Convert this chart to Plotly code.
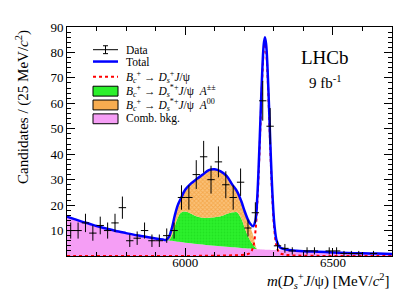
import numpy as np
import plotly.graph_objects as go

# ---------------- data ----------------
bin_low = 5600.0
bin_width = 25.0
counts = [10, 10, 13, 9, 12, 10, 13, 19, 6, 7,
          10, 6, 6, 8, 10, 23, 23, 32, 39, 30,
          37, 28, 23, 29, 11, 17, 61, 51, 4, 3,
          2, 0, 2, 2, 0, 2, 2, 1, 1, 1,
          0, 1, 0, 0]

curve_mass = [5600, 5625, 5650, 5675, 5700, 5725, 5750, 5775, 5800, 5825, 5850, 5875, 5900, 5925,
              5935, 5945, 5955, 5965, 5975, 5985,
              6000, 6020, 6040, 6060, 6080, 6100, 6120, 6140, 6160,
              6175, 6190, 6200, 6210, 6220, 6230,
              6238, 6244, 6250,
              6254, 6258, 6262, 6266, 6270, 6274, 6278, 6282, 6286, 6290,
              6296, 6302, 6310, 6320, 6335, 6350, 6375, 6400,
              6450, 6500, 6550, 6600, 6650, 6700]

comb_bkg = [15.5, 14.5, 13.5, 12.7, 11.8, 11.0, 10.3, 9.6, 9.0, 8.4, 7.9, 7.4, 6.9, 6.45,
            6.3, 6.1, 6.0, 5.8, 5.6, 5.5,
            5.2, 5.0, 4.7, 4.5, 4.2, 4.0, 3.8, 3.6, 3.4,
            3.3, 3.1, 3.0, 2.95, 2.9, 2.8,
            2.75, 2.7, 2.65,
            2.6, 2.6, 2.55, 2.55, 2.5, 2.5, 2.5, 2.45, 2.45, 2.4,
            2.4, 2.35, 2.3, 2.25, 2.15, 2.05, 1.9, 1.8,
            1.6, 1.4, 1.2, 1.05, 0.95, 0.8]

dsstar_pp = [0, 0, 0, 0, 0, 0, 0, 0, 0, 0, 0, 0, 0, 0,
             0, 0.3, 2.0, 6.0, 9.5, 11.5,
             12.3, 11.6, 10.8, 10.5, 10.8, 11.2, 11.8, 12.9, 13.8,
             13.9, 11.6, 8.5, 5.5, 3.2, 1.6,
             0.5, 0, 0,
             0, 0, 0, 0, 0, 0, 0, 0, 0, 0,
             0, 0, 0, 0, 0, 0, 0, 0,
             0, 0, 0, 0, 0, 0]

dsstar_00 = [0, 0, 0, 0, 0, 0, 0, 0, 0, 0, 0, 0, 0, 0,
             0, 1.1, 3.0, 4.2, 4.9, 5.5,
             8.5, 11.9, 14.8, 17.0, 18.7, 18.8, 17.5, 14.8, 10.5,
             8.0, 6.4, 6.0, 5.8, 5.4, 3.8,
             1.0, 0, 0,
             0, 0, 0, 0, 0, 0, 0, 0, 0, 0,
             0, 0, 0, 0, 0, 0, 0, 0,
             0, 0, 0, 0, 0, 0]

signal_ds = [0, 0, 0, 0, 0, 0, 0, 0, 0, 0, 0, 0, 0, 0,
             0, 0, 0, 0, 0, 0,
             0.02, 0.03, 0.05, 0.06, 0.08, 0.1, 0.15, 0.2, 0.25,
             0.3, 0.4, 0.5, 0.7, 1.2, 3.5,
             9.9, 20.4, 36.3,
             49.0, 61.9, 73.1, 80.7, 83.5, 80.7, 73.1, 61.9, 49.0, 36.3,
             20.4, 9.9, 3.5, 1.2, 0.6, 0.35, 0.2, 0.1,
             0.05, 0, 0, 0, 0, 0]

y_tick_vals = [10, 20, 30, 40, 50, 60, 70, 80, 90]

# ---------------- derived ----------------
counts_a = np.array(counts, dtype=float)
centers = bin_low + bin_width * (np.arange(len(counts)) + 0.5)
nz = counts_a > 0
comb = np.array(comb_bkg)
g_top = comb + np.array(dsstar_pp)
o_top = g_top + np.array(dsstar_00)
sig = np.array(signal_ds)
total = o_top + sig

FONT = "Liberation Serif"
PINK = "#f59ef5"
GREEN = "#2cf02c"
ORANGE = "#f7ac50"

fig = go.Figure()
fig.add_trace(go.Scatter(x=curve_mass, y=comb, mode="lines", line=dict(width=0, shape="spline"),
                         fill="tozeroy", fillcolor=PINK, hoverinfo="skip"))
fig.add_trace(go.Scatter(x=curve_mass, y=g_top, mode="lines", line=dict(width=0, shape="spline"),
                         fill="tonexty", fillcolor=GREEN,
                         fillpattern=dict(shape=".", bgcolor=GREEN, fgcolor="#18d418", size=3, solidity=0.3),
                         hoverinfo="skip"))
fig.add_trace(go.Scatter(x=curve_mass, y=o_top, mode="lines", line=dict(width=0, shape="spline"),
                         fill="tonexty", fillcolor=ORANGE,
                         fillpattern=dict(shape="x", bgcolor="#fac27a", fgcolor="#ef9020", size=3, solidity=0.5),
                         hoverinfo="skip"))
fig.add_trace(go.Scatter(x=curve_mass, y=sig, mode="lines",
                         line=dict(color="#ff0000", width=2, dash="dot", shape="spline")))
fig.add_trace(go.Scatter(x=curve_mass, y=total, mode="lines",
                         line=dict(color="#0000ff", width=2.5, shape="spline")))
fig.add_trace(go.Scatter(x=centers[nz], y=counts_a[nz], mode="markers",
                         marker=dict(size=1, color="black"),
                         error_x=dict(type="constant", value=bin_width / 2, width=0, thickness=1, color="black"),
                         error_y=dict(type="data", array=np.sqrt(counts_a[nz]), width=0, thickness=1, color="black")))

# ---------------- layout helpers ----------------
L, R, T, B = 59, 23, 16, 50
W, H = 407, 298
PW, PH = W - L - R, H - T - B


def px_x(p):
    return (p - L) / PW


def px_y(p):
    return (H - B - p) / PH


shapes = []
ann = []
sx0, sx1 = 85, 110
# Data symbol
shapes.append(dict(type="line", xref="paper", yref="paper", x0=px_x(sx0), x1=px_x(sx1),
                   y0=px_y(39), y1=px_y(39), line=dict(color="black", width=1)))
shapes.append(dict(type="line", xref="paper", yref="paper", x0=px_x(97.5), x1=px_x(97.5),
                   y0=px_y(35), y1=px_y(43), line=dict(color="black", width=1)))
for yy in (35, 43):
    shapes.append(dict(type="line", xref="paper", yref="paper", x0=px_x(95), x1=px_x(100),
                       y0=px_y(yy), y1=px_y(yy), line=dict(color="black", width=1)))
# Total
shapes.append(dict(type="line", xref="paper", yref="paper", x0=px_x(sx0), x1=px_x(sx1),
                   y0=px_y(51), y1=px_y(51), line=dict(color="#0000ff", width=2.5)))
# Signal
shapes.append(dict(type="line", xref="paper", yref="paper", x0=px_x(sx0), x1=px_x(sx1),
                   y0=px_y(66.5), y1=px_y(66.5), line=dict(color="#ff0000", width=2, dash="dot")))
# boxes
for yc, col in ((81, GREEN), (95, ORANGE), (109, PINK)):
    shapes.append(dict(type="rect", xref="paper", yref="paper", x0=px_x(sx0), x1=px_x(sx1),
                       y0=px_y(yc + 5), y1=px_y(yc - 5), fillcolor=col, line=dict(color="black", width=1)))

leg_texts = [
    (39, "Data"),
    (51, "Total"),
    (66.5, "<i>B</i><sub><i>c</i></sub><sup>+</sup> → <i>D</i><sub><i>s</i></sub><sup>+</sup><i>J</i>/ψ"),
    (81, "<i>B</i><sub><i>c</i></sub><sup>+</sup> → <i>D</i><sub><i>s</i></sub><sup>*+</sup><i>J</i>/ψ  <i>A</i><sup>±±</sup>"),
    (95, "<i>B</i><sub><i>c</i></sub><sup>+</sup> → <i>D</i><sub><i>s</i></sub><sup>*+</sup><i>J</i>/ψ  <i>A</i><sup>00</sup>"),
    (109, "Comb. bkg."),
]
for yc, txt in leg_texts:
    ann.append(dict(xref="paper", yref="paper", x=px_x(116), y=px_y(yc), text=txt, showarrow=False,
                    xanchor="left", yanchor="middle", font=dict(family=FONT, size=11.5, color="black")))

ann.append(dict(xref="paper", yref="paper", x=px_x(317), y=px_y(46.5), text="LHCb", showarrow=False,
                xanchor="center", yanchor="middle", font=dict(family=FONT, size=19, color="black")))
ann.append(dict(xref="paper", yref="paper", x=px_x(317), y=px_y(72), text="9 fb<sup>-1</sup>", showarrow=False,
                xanchor="center", yanchor="middle", font=dict(family=FONT, size=15, color="black")))
ann.append(dict(xref="paper", yref="paper", x=px_x(15), y=px_y(97), text="Candidates / (25 MeV/<i>c</i><sup>2</sup>)",
                showarrow=False, textangle=-90, xanchor="center", yanchor="middle",
                font=dict(family=FONT, size=15, color="black")))
ann.append(dict(xref="paper", yref="paper", x=px_x(384), y=px_y(273),
                text="<i>m</i>(<i>D</i><sub><i>s</i></sub><sup>+</sup><i>J</i>/ψ) [MeV/<i>c</i><sup>2</sup>]",
                showarrow=False, xanchor="right", yanchor="middle",
                font=dict(family=FONT, size=15, color="black")))

fig.update_layout(
    width=W, height=H,
    margin=dict(l=L, r=R, t=T, b=B),
    paper_bgcolor="white", plot_bgcolor="white",
    showlegend=False,
    shapes=shapes, annotations=ann,
    font=dict(family=FONT, size=13, color="black"),
)
fig.update_xaxes(range=[5600, 6700], tickmode="linear", tick0=6000, dtick=500,
                 ticks="inside", ticklen=8, tickcolor="black", showgrid=False, zeroline=False,
                 showline=True, linecolor="black", linewidth=1, mirror="allticks",
                 tickfont=dict(family=FONT, size=13), ticklabelstandoff=-6,
                 minor=dict(tickmode="linear", tick0=6000, dtick=100, ticks="inside", ticklen=4,
                            tickcolor="black", showgrid=False))
fig.update_yaxes(range=[0, 90], tickmode="array", tickvals=y_tick_vals,
                 ticks="inside", ticklen=8, tickcolor="black", showgrid=False, zeroline=False,
                 showline=True, linecolor="black", linewidth=1, mirror="allticks",
                 tickfont=dict(family=FONT, size=13),
                 minor=dict(tickmode="linear", tick0=0, dtick=2, ticks="inside", ticklen=4,
                            tickcolor="black", showgrid=False))

fig.write_html("out.html")
